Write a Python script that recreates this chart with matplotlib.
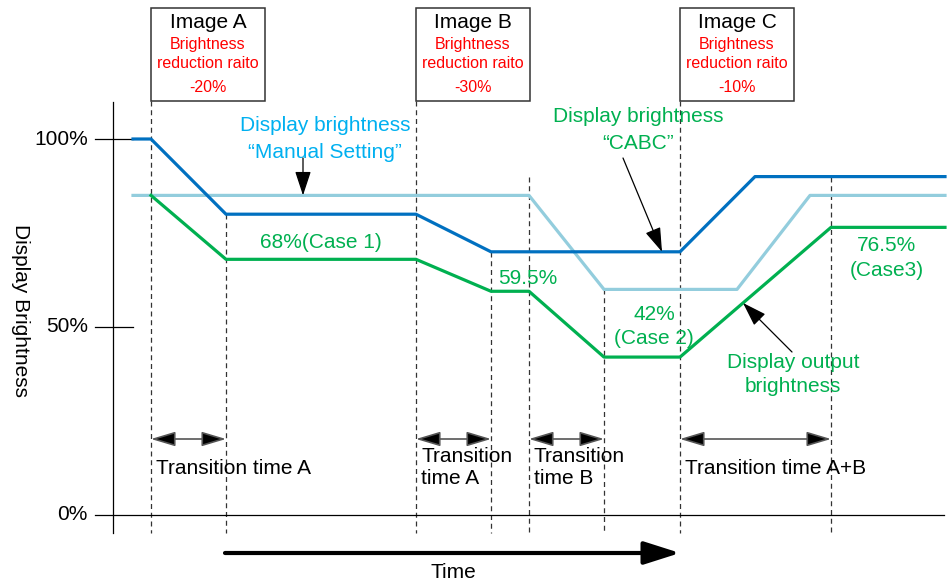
import numpy as np
import matplotlib.pyplot as plt
from matplotlib.patches import Rectangle

plt.rcParams['font.family'] = ['Liberation Sans', 'DejaVu Sans']

#
# data: time in arbitrary units, brightness in %
cabc_t   = [133, 151, 226, 416, 491, 680, 755, 945]
cabc_v   = [100, 100, 80, 80, 70, 70, 90, 90]
manual_t = [133, 529, 604, 737, 810, 945]
manual_v = [85, 85, 60, 60, 85, 85]
output_t = [151, 226, 416, 491, 529, 604, 680, 831, 945]
output_v = [85, 68, 68, 59.5, 59.5, 42, 42, 76.5, 76.5]

event_t   = [151, 226, 416, 491, 529, 604, 680, 831]
event_top = [110, 80, 110, 70, 90, 60, 110, 90]

images    = ['Image A', 'Image B', 'Image C']
image_t   = [151, 416, 680]
reduction = ['-20%', '-30%', '-10%']

ytick_v      = [0, 50, 100]
ytick_labels = ['0%', '50%', '100%']

trans_start  = [151, 416, 529, 680]
trans_end    = [226, 491, 604, 831]
trans_labels = ['Transition time A', 'Transition\ntime A', 'Transition\ntime B', 'Transition time A+B']

C_DARK  = '#0070C0'
C_LIGHT = '#93CDDD'
C_GREEN = '#00B050'
C_CYAN  = '#00B0F0'
C_RED   = '#FF0000'

# layout: 515 px = 0%, 3.76 px per %
Y0, S = 515, 3.76
def py(y):
    return (Y0 - y) / S

fig = plt.figure(figsize=(9.5, 5.85), dpi=100)
ax = fig.add_axes([0, 0, 1, 1])
ax.set_xlim(0, 950)
ax.set_ylim(py(585), py(0))
ax.axis('off')

#
# axes, ticks and guides
ax.plot([113, 113], [py(102), py(533)], color='black', lw=0.9)
ax.plot([95, 944], [0, 0], color='black', lw=0.9)
for v, lab in zip(ytick_v, ytick_labels):
    if v > 0:
        ax.plot([95, 133], [v, v], color='black', lw=0.9)
    ax.text(88, v, lab, ha='right', va='center', fontsize=15)
ax.text(20, py(310), 'Display Brightness', rotation=270, ha='center', va='center', fontsize=15)

for t, top in zip(event_t, event_top):
    ax.plot([t, t], [top, py(533)], color='#333333', lw=0.9, ls=(0, (4, 3)), zorder=1)

#
# image boxes
for t, name, red in zip(image_t, images, reduction):
    ax.add_patch(Rectangle((t, py(101)), 114, py(8) - py(101), fill=False, ec='#333333', lw=1.1))
    cx = t + 57
    ax.text(cx, py(22), name, ha='center', va='center', fontsize=15)
    ax.text(cx, py(45), 'Brightness', ha='center', va='center', fontsize=11.5, color=C_RED)
    ax.text(cx, py(64), 'reduction raito', ha='center', va='center', fontsize=11.5, color=C_RED)
    ax.text(cx, py(88), red, ha='center', va='center', fontsize=11.5, color=C_RED)

#
# brightness lines
ax.plot(manual_t, manual_v, color=C_LIGHT, lw=2.3, zorder=3)
ax.plot(cabc_t, cabc_v, color=C_DARK, lw=2.3, zorder=4)
ax.plot(output_t, output_v, color=C_GREEN, lw=2.3, zorder=5)

#
# labels and pointer arrows
ax.text(325, py(125), 'Display brightness', ha='center', va='center', fontsize=15, color=C_CYAN)
ax.text(325, py(152), '\u201cManual Setting\u201d', ha='center', va='center', fontsize=15, color=C_CYAN)
ax.text(638, py(116), 'Display brightness', ha='center', va='center', fontsize=15, color=C_GREEN)
ax.text(638, py(143), '\u201cCABC\u201d', ha='center', va='center', fontsize=15, color=C_GREEN)
ax.text(321, py(242), '68%(Case 1)', ha='center', va='center', fontsize=15, color=C_GREEN)
ax.text(528, py(279), '59.5%', ha='center', va='center', fontsize=15, color=C_GREEN)
ax.text(654, py(315), '42%', ha='center', va='center', fontsize=15, color=C_GREEN)
ax.text(654, py(339), '(Case 2)', ha='center', va='center', fontsize=15, color=C_GREEN)
ax.text(887, py(245), '76.5%', ha='center', va='center', fontsize=15, color=C_GREEN)
ax.text(887, py(271), '(Case3)', ha='center', va='center', fontsize=15, color=C_GREEN)
ax.text(793, py(362), 'Display output', ha='center', va='center', fontsize=15, color=C_GREEN)
ax.text(793, py(386), 'brightness', ha='center', va='center', fontsize=15, color=C_GREEN)

head = dict(arrowstyle='-|>,head_length=1.0,head_width=0.33', mutation_scale=15,
            color='black', lw=0.9, shrinkA=0, shrinkB=0)
ax.annotate('', xy=(303, np.interp(303, manual_t, manual_v)), xytext=(303, py(158)),
            arrowprops=head, zorder=6)
ax.annotate('', xy=(662, np.interp(662, cabc_t, cabc_v)), xytext=(623, py(158)),
            arrowprops=head, zorder=6)
ax.annotate('', xy=(743, np.interp(743, output_t, output_v)), xytext=(792, py(352)),
            arrowprops=head, zorder=6)

#
# transition times
for t0, t1, lab in zip(trans_start, trans_end, trans_labels):
    ax.annotate('', xy=(t1, py(439)), xytext=(t0, py(439)),
                arrowprops=dict(arrowstyle='<|-|>,head_length=1.0,head_width=0.3', mutation_scale=15,
                                fc='black', ec='#555555', lw=1.2, shrinkA=0, shrinkB=0))
    ax.text(t0 + 5, py(468), lab, ha='left', va='center', fontsize=15, linespacing=1.2)

#
# time axis arrow
ax.annotate('', xy=(680, py(553)), xytext=(225, py(553)),
            arrowprops=dict(arrowstyle='-|>,head_length=1.1,head_width=0.35', mutation_scale=20,
                            color='black', lw=3, shrinkA=0, shrinkB=0))
ax.text(453, py(572), 'Time', ha='center', va='center', fontsize=15)

fig.savefig('out.png', dpi=100)
plt.close()
